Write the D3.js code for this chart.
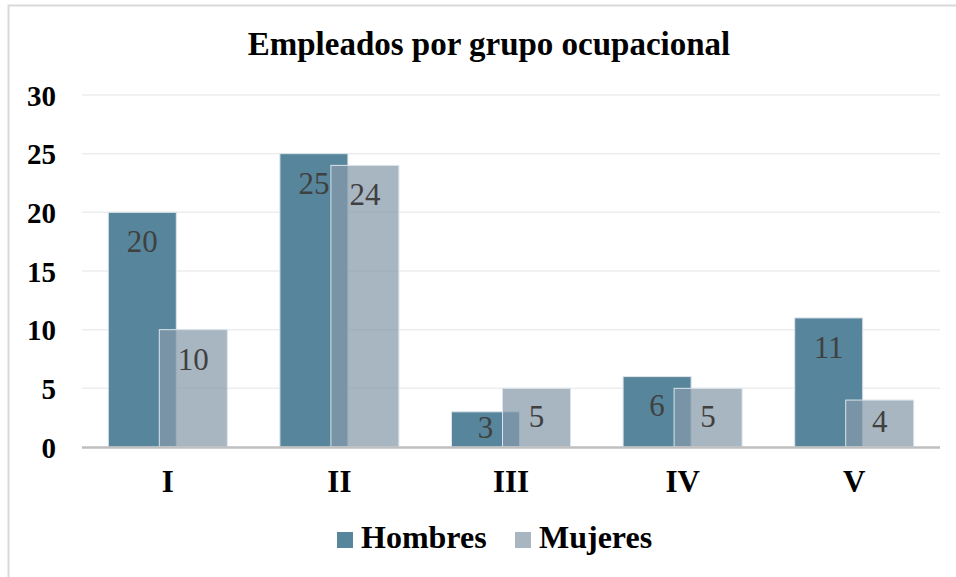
<!DOCTYPE html>
<html>
<head>
<meta charset="utf-8">
<script src="https://cdn.jsdelivr.net/npm/d3@7/dist/d3.min.js"></script>
<style>
  body { margin: 0; background: #fff; }
  svg { display: block; }
  text { font-family: "Liberation Serif", "DejaVu Serif", serif; }
</style>
</head>
<body>
<svg id="chart" width="956" height="577"></svg>
<script>
// data
var categories = ["I", "II", "III", "IV", "V"];
var hombres = [20, 25, 3, 6, 11];
var mujeres = [10, 24, 5, 5, 4];
var yTicks = [0, 5, 10, 15, 20, 25, 30];
var seriesNames = ["Hombres", "Mujeres"];

var serif = "Liberation Serif";
var svg = d3.select("#chart");

// outer frame (only left and top are visible in the picture)
svg.append("rect")
    .attr("x", 8.5).attr("y", 5.5)
    .attr("width", 1000).attr("height", 1000)
    .attr("fill", "none").attr("stroke", "#d9d9d9").attr("stroke-width", 2);

var x = d3.scaleBand().domain(categories).range([82, 940]).paddingInner(0).paddingOuter(0);
var y = d3.scaleLinear().domain([0, 30]).range([447, 95]);

var barW = 68, shift = 51;
var groupOff = (x.bandwidth() - (barW + shift)) / 2;

// title
svg.append("text")
    .attr("x", 489).attr("y", 55)
    .attr("text-anchor", "middle")
    .attr("font-family", serif)
    .attr("font-size", 33).attr("font-weight", "bold")
    .attr("fill", "#000")
    .text("Empleados por grupo ocupacional");

// grid lines
svg.append("g").selectAll("line")
    .data(yTicks.filter(function (d) { return d > 0; }))
    .join("line")
    .attr("x1", 82).attr("x2", 940)
    .attr("y1", function (d) { return y(d); })
    .attr("y2", function (d) { return y(d); })
    .attr("stroke", "#ededed").attr("stroke-width", 1.5);

// y axis labels
var yAxis = d3.axisLeft(y).tickValues(yTicks).tickSize(0).tickPadding(0);
var gy = svg.append("g").attr("transform", "translate(56,0)").call(yAxis)
    .attr("font-family", serif);
gy.select(".domain").remove();
gy.selectAll("text")
    .attr("font-family", serif)
    .attr("font-size", 29).attr("font-weight", "bold").attr("fill", "#000")
    .attr("dy", "0.35em");

// bars
svg.append("g").selectAll("rect")
    .data(hombres)
    .join("rect")
    .attr("x", function (d, i) { return x(categories[i]) + groupOff; })
    .attr("y", function (d) { return y(d); })
    .attr("width", barW)
    .attr("height", function (d) { return y(0) - y(d); })
    .attr("fill", "#57869c")
    .attr("stroke", "#dbe4ea").attr("stroke-width", 1);

svg.append("g").selectAll("rect")
    .data(mujeres)
    .join("rect")
    .attr("x", function (d, i) { return x(categories[i]) + groupOff + shift; })
    .attr("y", function (d) { return y(d); })
    .attr("width", barW)
    .attr("height", function (d) { return y(0) - y(d); })
    .attr("fill", "rgb(134,154,170)")
    .attr("fill-opacity", 0.72)
    .attr("stroke", "#dbe4ea").attr("stroke-width", 1);

// value labels
function labelY(d) {
    var top = y(d), base = y(0);
    return Math.min(top + 29, (top + base) / 2 - 2);
}
function addLabels(values, off) {
    svg.append("g").selectAll("text")
        .data(values)
        .join("text")
        .attr("x", function (d, i) { return x(categories[i]) + groupOff + off + barW / 2; })
        .attr("y", function (d) { return labelY(d); })
        .attr("dy", "0.35em")
        .attr("text-anchor", "middle")
        .attr("font-family", serif)
        .attr("font-size", 31).attr("fill", "#404040")
        .text(function (d) { return d; });
}
addLabels(hombres, 0);
addLabels(mujeres, shift);

// x axis line
svg.append("line")
    .attr("x1", 82).attr("x2", 940)
    .attr("y1", y(0) + 0.5).attr("y2", y(0) + 0.5)
    .attr("stroke", "#bfbfbf").attr("stroke-width", 2.5);

// x axis labels
var xAxis = d3.axisBottom(x).tickSize(0).tickPadding(0);
var gx = svg.append("g").attr("transform", "translate(0,492)").call(xAxis)
    .attr("font-family", serif);
gx.select(".domain").remove();
gx.selectAll("text")
    .attr("font-family", serif)
    .attr("font-size", 31).attr("font-weight", "bold").attr("fill", "#000")
    .attr("dy", 0);

// legend
var legendItems = [
    { name: seriesNames[0], color: "#57869c", x: 337 },
    { name: seriesNames[1], color: "#a8b6c2", x: 515 }
];
var lg = svg.append("g").selectAll("g").data(legendItems).join("g")
    .attr("transform", function (d) { return "translate(" + d.x + ",0)"; });
lg.append("rect")
    .attr("x", 0).attr("y", 532).attr("width", 16).attr("height", 16)
    .attr("fill", function (d) { return d.color; });
lg.append("text")
    .attr("x", 24).attr("y", 548)
    .attr("font-family", serif)
    .attr("font-size", 32).attr("font-weight", "bold").attr("fill", "#000")
    .text(function (d) { return d.name; });
</script>
</body>
</html>
